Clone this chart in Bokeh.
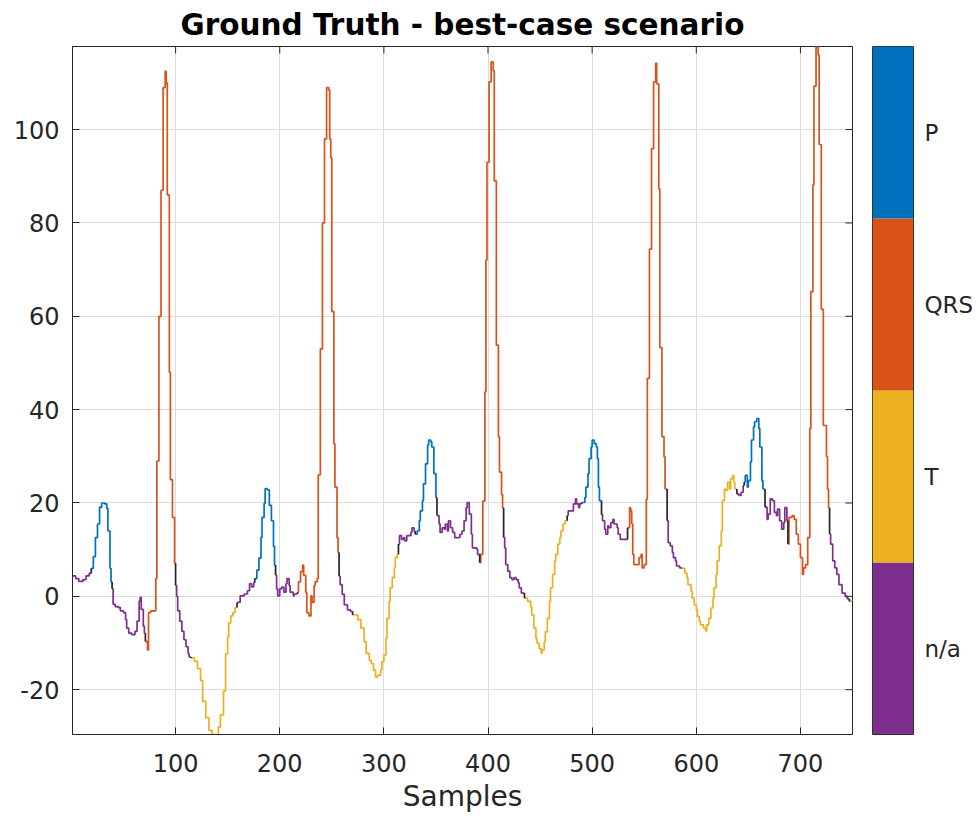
from bisect import bisect_right
from math import pi
from bokeh.plotting import figure
from bokeh.layouts import row
from bokeh.models import Range1d, FixedTicker
from bokeh.embed import file_html
from bokeh.resources import INLINE

# ---------------- data ----------------
SAMPLE = [1, 4, 7, 11, 14, 17, 19, 21, 23, 25, 27, 29, 32, 34, 35, 37, 38, 39, 40, 42,
          45, 47, 50, 52, 53, 55, 58, 61, 63, 65, 66, 67, 69, 70, 71, 73, 74, 76, 81, 82,
          84, 86, 88, 90, 91, 92, 94, 95, 97, 99, 100, 101, 102, 104, 106, 108, 110, 112, 113, 115,
          118, 121, 124, 126, 129, 132, 135, 141, 143, 146, 148, 150, 151, 153, 155, 157, 159, 162, 166, 169,
          171, 173, 175, 176, 178, 180, 182, 183, 185, 186, 188, 190, 192, 194, 195, 196, 197, 198, 200, 202,
          204, 206, 207, 209, 210, 213, 214, 217, 218, 220, 222, 223, 225, 226, 228, 230, 231, 233, 234, 236,
          237, 239, 241, 243, 245, 247, 248, 249, 250, 252, 253, 255, 256, 257, 258, 260, 262, 265, 268, 270,
          275, 278, 281, 283, 286, 288, 290, 292, 294, 297, 298, 300, 302, 303, 305, 306, 308, 310, 311, 313,
          314, 315, 317, 319, 320, 322, 326, 327, 329, 330, 332, 334, 335, 337, 338, 340, 342, 343, 345, 346,
          348, 350, 351, 353, 354, 356, 358, 359, 361, 362, 364, 366, 368, 373, 375, 377, 379, 380, 382, 384,
          385, 389, 390, 392, 393, 395, 397, 398, 399, 401, 403, 405, 406, 408, 410, 411, 413, 414, 415, 416,
          417, 419, 421, 423, 425, 427, 429, 430, 432, 435, 438, 441, 442, 444, 446, 447, 449, 451, 452, 454,
          455, 457, 459, 460, 462, 464, 465, 467, 469, 470, 472, 474, 476, 477, 482, 484, 485, 487, 488, 490,
          493, 494, 496, 497, 499, 500, 502, 504, 505, 506, 507, 509, 510, 512, 513, 515, 516, 518, 520, 521,
          524, 525, 527, 534, 536, 537, 538, 539, 540, 545, 547, 548, 550, 552, 553, 555, 557, 559, 561, 562,
          564, 565, 567, 569, 570, 572, 573, 575, 577, 578, 580, 581, 584, 586, 589, 591, 592, 595, 596, 598,
          600, 601, 603, 604, 607, 609, 610, 612, 614, 616, 617, 619, 620, 622, 624, 625, 627, 628, 630, 632,
          633, 635, 636, 637, 639, 641, 643, 645, 646, 647, 649, 650, 652, 653, 655, 656, 658, 660, 661, 663,
          664, 666, 668, 669, 671, 673, 675, 677, 678, 680, 682, 684, 685, 687, 688, 689, 692, 694, 696, 698,
          700, 702, 703, 705, 707, 709, 710, 712, 713, 715, 717, 718, 720, 722, 725, 726, 727, 728, 729, 731,
          733, 735, 737, 740, 743, 745, 747]
VALUE = [4.4, 3.8, 3.2, 3.6, 4.4, 4.9, 6.0, 8.5, 12.6, 15.5, 19.1, 20.0, 19.8, 18.8, 14.0, 6.0, 3.1, 1.6, -1.7, -2.2,
         -2.4, -3.1, -3.5, -5.0, -6.8, -7.9, -8.2, -7.5, -5.3, -1.0, -0.2, -2.8, -6.4, -7.9, -9.7, -11.5, -3.5, -3.1, 3.8, 29.0,
         60.0, 87.0, 109.0, 112.5, 110.0, 86.0, 48.0, 25.0, 16.9, 7.1, 2.3, 0.0, -3.1, -5.3, -7.5, -9.3, -10.8, -12.3, -13.0, -13.2,
         -13.9, -15.5, -18.0, -22.5, -26.0, -28.7, -29.6, -28.0, -25.4, -20.3, -12.3, -8.6, -5.7, -4.2, -3.5, -2.4, -1.3, 0.1, 0.5, 1.2,
         2.7, 2.0, 2.9, 3.8, 5.6, 8.2, 12.6, 16.9, 19.9, 23.1, 22.8, 19.5, 16.2, 10.7, 6.7, 4.5, 1.6, 0.1, 1.6, 2.0,
         0.9, 2.7, 3.8, 2.3, 0.9, 0.1, 0.5, 0.9, 3.1, 5.3, 6.7, 4.5, 0.9, -3.5, -4.2, 0.1, -1.3, 2.3, 3.1, 3.8,
         26.0, 53.0, 80.0, 98.0, 109.0, 108.5, 98.0, 94.0, 61.0, 32.7, 23.4, 12.6, 9.4, 4.3, 2.5, 0.4, -1.8, -2.9, -3.2, -4.0,
         -5.0, -6.8, -9.7, -12.2, -13.7, -14.4, -15.8, -17.3, -16.9, -15.8, -14.0, -12.6, -9.0, -4.7, -1.1, 1.8, 4.0, 6.1, 8.3, 9.0,
         11.2, 13.0, 12.2, 12.6, 11.9, 13.0, 13.7, 14.7, 14.0, 13.3, 14.0, 16.2, 18.3, 20.5, 24.1, 28.4, 32.4, 33.5, 33.1, 32.0,
         26.3, 21.2, 17.3, 15.5, 13.7, 14.7, 14.4, 15.5, 14.0, 16.2, 14.7, 13.7, 12.6, 13.3, 14.0, 16.2, 19.0, 20.1, 17.6, 13.3,
         10.4, 10.1, 9.0, 7.2, 9.0, 20.4, 43.8, 72.0, 93.0, 110.2, 114.5, 112.6, 89.0, 53.8, 34.2, 26.6, 21.8, 19.0, 12.6, 10.4,
         6.8, 5.4, 4.0, 3.6, 4.0, 3.6, 2.9, 1.8, 0.7, -0.4, -1.1, -2.2, -4.0, -6.8, -9.0, -10.0, -11.2, -12.2, -11.5, -9.7,
         -7.6, -4.7, -1.1, 1.8, 4.7, 7.6, 9.0, 11.2, 12.6, 14.0, 15.5, 16.2, 17.3, 18.3, 19.8, 20.9, 19.8, 19.0, 19.8, 20.1,
         21.2, 23.4, 26.3, 29.5, 32.0, 33.5, 32.7, 32.0, 29.5, 23.4, 20.5, 17.5, 16.2, 14.4, 13.3, 15.1, 14.7, 15.8, 16.5, 15.5,
         14.7, 13.3, 12.2, 14.7, 19.0, 18.3, 15.5, 9.0, 6.8, 8.3, 9.0, 6.1, 6.8, 20.8, 46.7, 74.4, 95.9, 110.2, 114.2, 109.8,
         87.3, 53.3, 34.2, 29.9, 23.0, 16.2, 11.5, 10.8, 9.4, 8.3, 7.6, 6.5, 6.1, 6.0, 5.0, 4.0, 2.5, 1.1, -0.4, -1.8,
         -2.9, -4.3, -5.4, -6.1, -6.8, -7.4, -6.1, -4.7, -2.5, -0.4, 1.8, 4.7, 7.6, 10.8, 14.0, 20.5, 23.0, 22.7, 24.5, 23.0,
         25.2, 25.9, 24.5, 23.0, 21.9, 21.6, 22.3, 23.7, 24.5, 25.9, 23.4, 24.8, 28.8, 33.5, 36.3, 37.4, 38.1, 36.0, 32.0, 24.8,
         23.0, 19.1, 16.5, 17.6, 20.9, 20.5, 18.0, 17.3, 18.7, 16.2, 14.4, 15.8, 19.0, 16.2, 11.2, 16.9, 17.3, 16.5, 13.3, 11.2,
         8.3, 4.7, 6.1, 6.8, 12.6, 36.0, 65.3, 88.2, 109.3, 117.8, 116.0, 96.8, 61.5, 36.6, 30.0, 23.0, 19.0, 13.3, 11.2, 7.6,
         6.1, 4.7, 2.5, 0.7, 0.0, -0.5, -1.1]
LAST_SAMPLE = 750

# annotation: first sample of each labelled run, and its label
LABEL_START = [1, 19, 39, 71, 100, 115, 159, 176, 196, 217, 257, 270, 314, 330, 351,
               392, 415, 435, 476, 490, 509, 534, 572, 586, 639, 646, 666, 688, 728, 747]
LABEL_NAME = ["n/a", "P", "n/a", "QRS", "n/a", "T", "n/a", "P", "n/a", "QRS", "n/a", "T", "n/a", "P", "n/a",
              "QRS", "n/a", "T", "n/a", "P", "n/a", "QRS", "n/a", "T", "n/a", "P", "n/a", "QRS", "n/a", "T"]

CLASSES = ["n/a", "T", "QRS", "P"]          # colorbar, bottom to top
CLASS_COLORS = ["#7E2F8E", "#EDB120", "#D95319", "#0072BD"]
TRANSITION_COLOR = "#262626"

X_TICKS = [100, 200, 300, 400, 500, 600, 700]
Y_TICKS = [-20, 0, 20, 40, 60, 80, 100]
Y_LIMITS = (-29.6, 117.8)

TITLE = "Ground Truth - best-case scenario"
X_LABEL = "Samples"

FONT = "DejaVu Sans"
TXT = "#262626"
GRID = "#dcdcdc"


def label_at(x):
    return LABEL_NAME[bisect_right(LABEL_START, x) - 1]


# ---------------- build stair paths per class ----------------
paths = {c: ([], []) for c in CLASSES}
black_x, black_y = [], []
edges = SAMPLE + [LAST_SAMPLE]
cur = label_at(SAMPLE[0])
px, py = [SAMPLE[0]], [VALUE[0]]
for i in range(len(SAMPLE)):
    x1 = edges[i + 1]
    px.append(x1)
    py.append(VALUE[i])
    if i + 1 < len(SAMPLE):
        nxt = label_at(SAMPLE[i + 1])
        if nxt == cur:
            px.append(x1)
            py.append(VALUE[i + 1])
        else:
            paths[cur][0].append(px)
            paths[cur][1].append(py)
            black_x.append([x1, x1])
            black_y.append([VALUE[i], VALUE[i + 1]])
            cur = nxt
            px, py = [x1], [VALUE[i + 1]]
paths[cur][0].append(px)
paths[cur][1].append(py)

# ---------------- main figure ----------------
H = 820
TOP, BOTTOM = 45, 86
p = figure(width=862, height=H, x_range=Range1d(1, LAST_SAMPLE), y_range=Range1d(*Y_LIMITS),
           output_backend="svg", toolbar_location=None,
           min_border_left=72, min_border_right=10, min_border_top=TOP, min_border_bottom=BOTTOM,
           background_fill_color="white", border_fill_color="white")

p.title.text = TITLE
p.title.align = "center"
p.title.text_font = FONT
p.title.text_font_size = "29.5px"
p.title.text_font_style = "bold"
p.title.text_color = "black"

p.xgrid.ticker = FixedTicker(ticks=X_TICKS)
p.ygrid.ticker = FixedTicker(ticks=Y_TICKS)
p.grid.grid_line_color = GRID
p.grid.grid_line_width = 1
p.outline_line_color = TXT

for c, col in zip(CLASSES, CLASS_COLORS):
    xs, ys = paths[c]
    p.multi_line(xs, ys, line_color=col, line_width=1.7)
p.multi_line(black_x, black_y, line_color=TRANSITION_COLOR, line_width=1.7)

# inward ticks on the top and right edges of the box (clipped to the frame)
p.scatter(x=X_TICKS, y=[Y_LIMITS[1]] * len(X_TICKS), marker="dash", angle=pi / 2, size=14,
          line_color=TXT, line_width=1)
p.scatter(x=[LAST_SAMPLE] * len(Y_TICKS), y=Y_TICKS, marker="dash", size=14,
          line_color=TXT, line_width=1)

for ax in (p.xaxis[0], p.yaxis[0]):
    ax.major_label_text_font = FONT
    ax.major_label_text_font_size = "24px"
    ax.major_label_text_color = TXT
    ax.axis_line_color = TXT
    ax.major_tick_line_color = TXT
    ax.major_tick_in = 7
    ax.major_tick_out = 0
    ax.minor_tick_line_color = None
p.xaxis.ticker = FixedTicker(ticks=X_TICKS)
p.yaxis.ticker = FixedTicker(ticks=Y_TICKS)
p.xaxis.major_label_overrides = {t: str(t) for t in X_TICKS}
p.yaxis.major_label_overrides = {t: str(t) for t in Y_TICKS}
p.xaxis.major_label_standoff = 19
p.yaxis.major_label_standoff = 13
p.xaxis.axis_label = X_LABEL
p.xaxis.axis_label_text_font = FONT
p.xaxis.axis_label_text_font_size = "28px"
p.xaxis.axis_label_text_font_style = "normal"
p.xaxis.axis_label_text_color = TXT
p.xaxis.axis_label_standoff = 5

# ---------------- colorbar figure ----------------
cb = figure(width=114, height=H, x_range=Range1d(0, 1), y_range=Range1d(0.5, len(CLASSES) + 0.5),
            output_backend="svg", toolbar_location=None, x_axis_location=None, y_axis_location="right",
            min_border_left=10, min_border_right=62, min_border_top=TOP, min_border_bottom=BOTTOM,
            background_fill_color="white", border_fill_color="white")
idx = list(range(1, len(CLASSES) + 1))
cb.quad(left=[0] * len(idx), right=[1] * len(idx), bottom=[i - 0.5 for i in idx], top=[i + 0.5 for i in idx],
        fill_color=CLASS_COLORS, line_color=None)
cb.yaxis.ticker = FixedTicker(ticks=idx)
cb.yaxis.major_label_overrides = {i: c for i, c in zip(idx, CLASSES)}
cb.yaxis.major_label_text_font = FONT
cb.yaxis.major_label_text_font_size = "23px"
cb.yaxis.major_label_text_color = TXT
cb.yaxis.axis_line_color = None
cb.yaxis.major_tick_line_color = None
cb.yaxis.minor_tick_line_color = None
cb.yaxis.major_tick_in = 0
cb.yaxis.major_tick_out = 0
cb.yaxis.major_label_standoff = 11
cb.grid.grid_line_color = None
cb.outline_line_color = TXT

layout = row(p, cb)
open("out.html", "w").write(file_html(layout, INLINE))
